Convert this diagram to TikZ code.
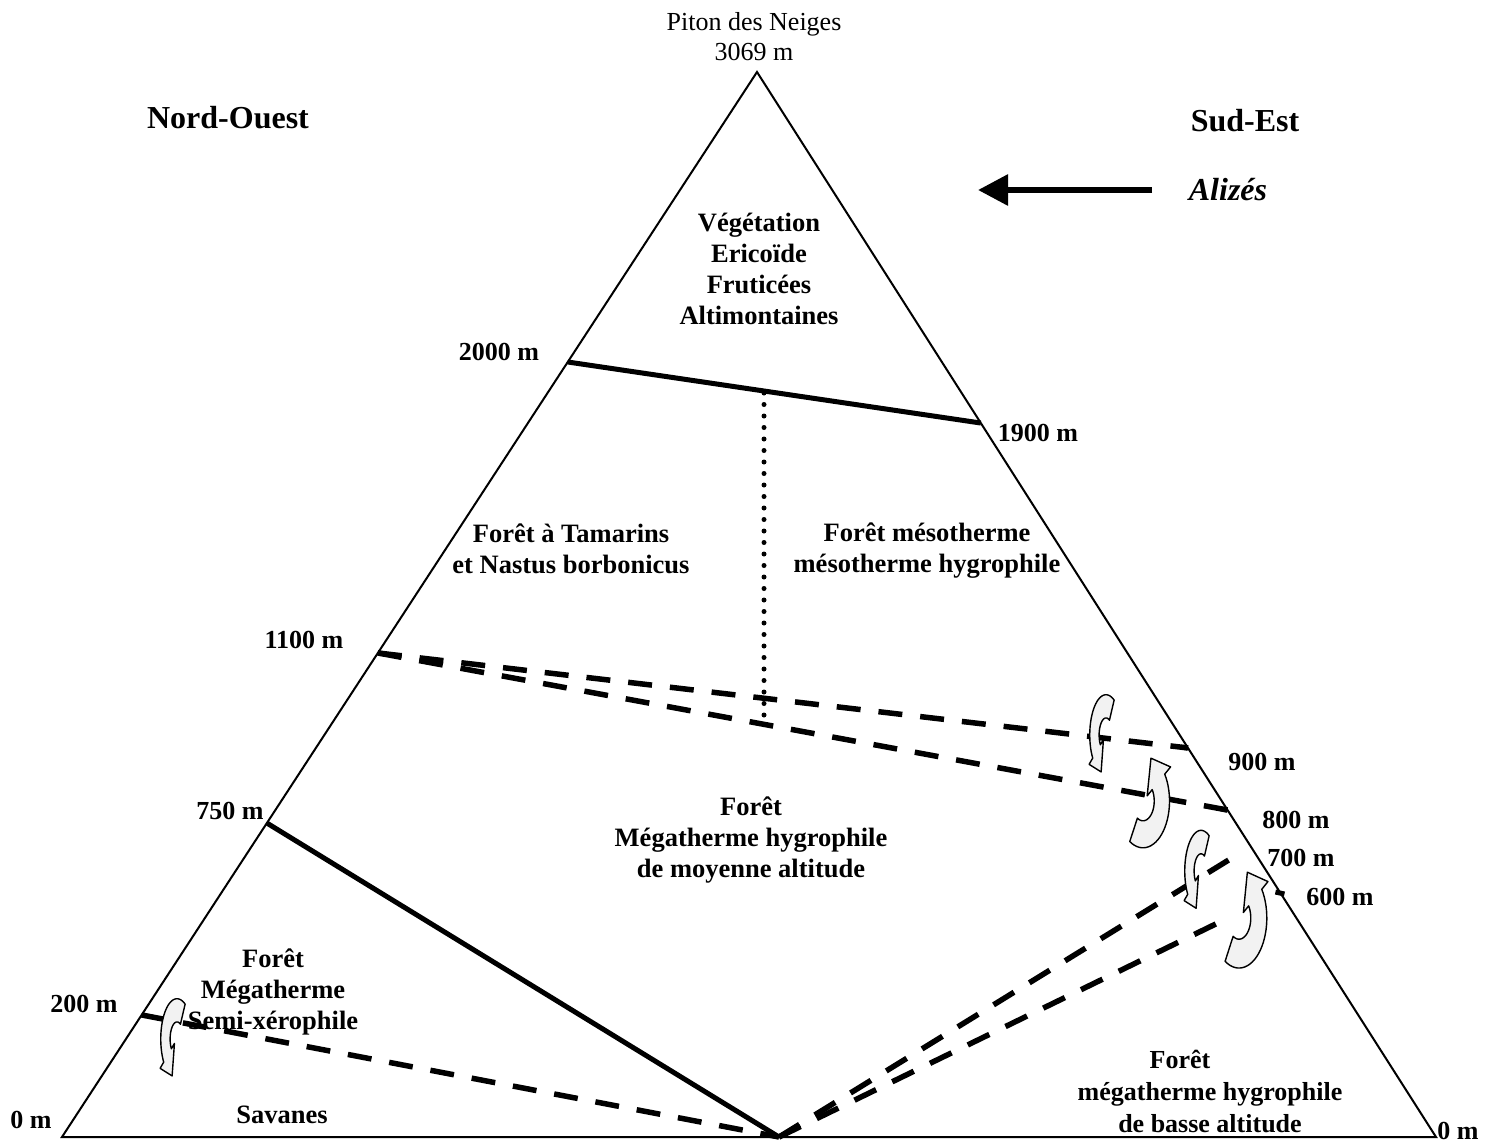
\documentclass[tikz,border=0pt]{standalone}
\usepackage{fontspec}
\setmainfont{Liberation Serif}
\usetikzlibrary{calc,arrows.meta}
\begin{document}
\begin{tikzpicture}[x=1pt,y=-1pt,
  lbl/.style={font=\fontsize{26.5}{31}\selectfont\bfseries, align=center, inner sep=0pt},
  alt/.style={font=\fontsize{26}{30}\selectfont\bfseries, inner sep=0pt},
  head/.style={font=\fontsize{32}{38}\selectfont\bfseries, inner sep=0pt},
  edgeline/.style={line width=2pt, line join=miter},
  solidline/.style={line width=5pt},
  dashline/.style={line width=5.5pt, dash pattern=on 24pt off 18pt},
  dotline/.style={line width=5pt, line cap=round, dash pattern=on 0pt off 11.5pt},
  turn/.style={draw, line width=1.4pt, fill=gray!10, line join=round},
  pics/turnarrow/.style={code={
    \path[turn] plot[domain=-60:-215,samples=30] (\x:1.3) -- (-215:1.65) -- (-0.39,1.19) -- (-215:0.25) -- plot[domain=-215:-60,samples=30] (\x:0.55) -- cycle;
  }}]
\useasboundingbox (0,0) rectangle (1497,1143);
% triangle
\coordinate (A) at (757,72);
\coordinate (L) at (62,1137);
\coordinate (R) at (1436,1137);
\coordinate (B) at (779,1137);
\draw[edgeline] (L) -- (A) -- (R) -- cycle;
% points on edges
\coordinate (E2000) at ($(A)!0.2723!(L)$);
\coordinate (E1900) at ($(A)!0.3296!(R)$);
\coordinate (E1100) at ($(A)!0.5455!(L)$);
\coordinate (E900) at ($(A)!0.6347!(R)$);
\coordinate (E800) at ($(A)!0.6930!(R)$);
\coordinate (E750) at ($(A)!0.7052!(L)$);
\coordinate (E200) at ($(A)!0.8854!(L)$);
\coordinate (E600) at ($(A)!0.7709!(R)$);
\coordinate (P700) at (1240,853);
\coordinate (P650) at (1228,918);
\coordinate (D1) at (764,393);
\coordinate (D2) at (764,722);
% limit lines
\draw[solidline] (E2000) -- (E1900);
\draw[solidline] (E750) -- (B);
\draw[dotline] (D1) -- (D2);
\draw[dashline] (E1100) -- (E900);
\draw[dashline] (E1100) -- (E800);
\draw[dashline] (E200) -- (B);
\draw[dashline] (B) -- (P700);
\draw[dashline] (B) -- (P650);
\draw[line width=5pt] ($(E900)!7pt!(E1100)$) -- (E900);
\draw[line width=5pt] ($(E800)!7pt!(E1100)$) -- (E800);
\draw[line width=5pt] ($(E600)+(-5,-1)$) -- ($(E600)+(4,1)$);
% wind arrow
\coordinate (W1) at (1152,190);
\coordinate (W2) at (978,190);
\draw[line width=6pt, -{Triangle[length=30pt,width=30pt]}] (W1) -- (W2);
\node[head, font=\fontsize{32}{38}\selectfont\bfseries\itshape] (alizes) at (1228,190) {Alizés};
% curved arrows
\pic[xscale=12.5, yscale=31] at (1106,735) {turnarrow};
\pic[xscale=-20.4, yscale=-36] at (1143,801) {turnarrow};
\pic[xscale=12.5, yscale=31.3] at (1201,871) {turnarrow};
\pic[xscale=-21.4, yscale=-38.5] at (1239,918) {turnarrow};
\pic[xscale=12.5, yscale=31] at (177,1039) {turnarrow};
% headings
\node[font=\fontsize{26}{30}\selectfont, align=center, inner sep=0pt] (piton) at (754,37) {Piton des Neiges\\3069 m};
\node[head] (no) at (228,118) {Nord-Ouest};
\node[head] (se) at (1245,121) {Sud-Est};
% zone labels
\node[lbl] (veg) at (759,269) {Végétation\\Ericoïde\\Fruticées\\Altimontaines};
\node[lbl] (tam) at (571,549) {Forêt à Tamarins\\et Nastus borbonicus};
\node[lbl] (meso) at (927,551) {Forêt mésotherme\\mésotherme hygrophile};
\node[lbl] (moy) at (751,840) {Forêt\\Mégatherme hygrophile\\de moyenne altitude};
\node[lbl] (semi) at (273,992) {Forêt\\Mégatherme\\Semi-xérophile};
\node[lbl] (sav) at (282,1115) {Savanes};
\node[lbl, font=\fontsize{26}{32}\selectfont\bfseries] (basse) at (1210,1091) {Forêt\hspace*{60pt}\\mégatherme hygrophile\\de basse altitude};
% altitudes
\node[alt] (a2000) at (499,352) {2000 m};
\node[alt] (a1900) at (1038,433) {1900 m};
\node[alt] (a1100) at (304,640) {1100 m};
\node[alt] (a900) at (1262,762) {900 m};
\node[alt] (a800) at (1296,820) {800 m};
\node[alt] (a700) at (1301,858) {700 m};
\node[alt] (a600) at (1340,897) {600 m};
\node[alt] (a750) at (230,811) {750 m};
\node[alt] (a200) at (84,1004) {200 m};
\node[alt] (a0l) at (31,1120) {0 m};
\node[alt] (a0r) at (1458,1131) {0 m};
\end{tikzpicture}
\end{document}
